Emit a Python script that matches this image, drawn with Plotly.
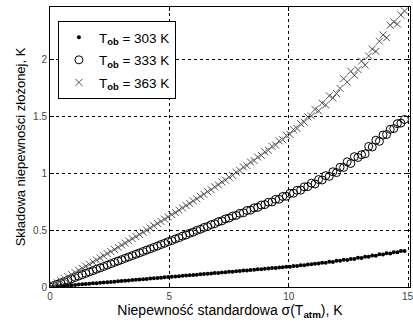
import plotly.graph_objects as go

x_sigma = [0.00, 0.15, 0.30, 0.45, 0.60, 0.75, 0.90, 1.05, 1.20, 1.35,
           1.50, 1.65, 1.80, 1.95, 2.10, 2.25, 2.40, 2.55, 2.70, 2.85,
           3.00, 3.15, 3.30, 3.45, 3.60, 3.75, 3.90, 4.05, 4.20, 4.35,
           4.50, 4.65, 4.80, 4.95, 5.10, 5.25, 5.40, 5.55, 5.70, 5.85,
           6.00, 6.15, 6.30, 6.45, 6.60, 6.75, 6.90, 7.05, 7.20, 7.35,
           7.50, 7.65, 7.80, 7.95, 8.10, 8.25, 8.40, 8.55, 8.70, 8.85,
           9.00, 9.15, 9.30, 9.45, 9.60, 9.75, 9.90, 10.05, 10.20, 10.35,
           10.50, 10.65, 10.80, 10.95, 11.10, 11.25, 11.40, 11.55, 11.70, 11.85,
           12.00, 12.15, 12.30, 12.45, 12.60, 12.75, 12.90, 13.05, 13.20, 13.35,
           13.50, 13.65, 13.80, 13.95, 14.10, 14.25, 14.40, 14.55, 14.70, 14.85]

y_303 = [0.000, 0.003, 0.005, 0.008, 0.011, 0.013, 0.016, 0.018, 0.021, 0.024,
         0.026, 0.029, 0.032, 0.034, 0.037, 0.040, 0.042, 0.045, 0.047, 0.050,
         0.053, 0.055, 0.058, 0.061, 0.063, 0.066, 0.068, 0.071, 0.074, 0.077,
         0.079, 0.082, 0.085, 0.087, 0.090, 0.092, 0.095, 0.098, 0.100, 0.103,
         0.106, 0.108, 0.111, 0.114, 0.116, 0.119, 0.122, 0.124, 0.127, 0.130,
         0.133, 0.134, 0.139, 0.140, 0.144, 0.146, 0.149, 0.151, 0.155, 0.156,
         0.161, 0.163, 0.166, 0.168, 0.172, 0.173, 0.178, 0.179, 0.184, 0.185,
         0.191, 0.192, 0.198, 0.199, 0.205, 0.206, 0.212, 0.214, 0.221, 0.220,
         0.230, 0.230, 0.239, 0.238, 0.247, 0.246, 0.257, 0.255, 0.266, 0.265,
         0.276, 0.275, 0.287, 0.285, 0.296, 0.295, 0.306, 0.305, 0.317, 0.316]

y_333 = [0.000, 0.012, 0.024, 0.036, 0.048, 0.060, 0.072, 0.084, 0.096, 0.108,
         0.120, 0.132, 0.144, 0.156, 0.168, 0.180, 0.192, 0.204, 0.216, 0.228,
         0.240, 0.252, 0.264, 0.276, 0.288, 0.300, 0.312, 0.324, 0.336, 0.348,
         0.360, 0.373, 0.384, 0.398, 0.408, 0.422, 0.433, 0.447, 0.457, 0.472,
         0.482, 0.497, 0.507, 0.523, 0.531, 0.548, 0.556, 0.573, 0.581, 0.598,
         0.606, 0.623, 0.629, 0.647, 0.652, 0.672, 0.676, 0.695, 0.700, 0.720,
         0.724, 0.745, 0.747, 0.770, 0.771, 0.795, 0.797, 0.822, 0.824, 0.850,
         0.851, 0.880, 0.882, 0.912, 0.905, 0.944, 0.940, 0.978, 0.972, 1.012,
         1.005, 1.052, 1.050, 1.100, 1.085, 1.145, 1.138, 1.162, 1.170, 1.235,
         1.230, 1.290, 1.280, 1.335, 1.340, 1.385, 1.392, 1.435, 1.440, 1.472]

y_363 = [0.000, 0.018, 0.036, 0.054, 0.073, 0.091, 0.109, 0.127, 0.146, 0.164,
         0.182, 0.200, 0.219, 0.237, 0.256, 0.274, 0.293, 0.311, 0.330, 0.349,
         0.368, 0.386, 0.405, 0.424, 0.443, 0.462, 0.481, 0.500, 0.519, 0.538,
         0.558, 0.576, 0.597, 0.615, 0.636, 0.654, 0.676, 0.694, 0.716, 0.734,
         0.756, 0.774, 0.797, 0.814, 0.838, 0.855, 0.880, 0.897, 0.923, 0.939,
         0.965, 0.980, 1.009, 1.023, 1.054, 1.066, 1.098, 1.111, 1.142, 1.156,
         1.188, 1.201, 1.236, 1.246, 1.284, 1.294, 1.332, 1.341, 1.382, 1.392,
         1.435, 1.448, 1.495, 1.503, 1.560, 1.548, 1.615, 1.600, 1.680, 1.660,
         1.700, 1.745, 1.830, 1.800, 1.895, 1.860, 1.910, 1.985, 1.950, 2.030,
         2.090, 2.070, 2.160, 2.215, 2.190, 2.300, 2.330, 2.310, 2.390, 2.425]

names = ["T<sub><b>ob</b></sub> = 303 K",
         "T<sub><b>ob</b></sub> = 333 K",
         "T<sub><b>ob</b></sub> = 363 K"]

x_ticks = [0, 5, 10, 15]
x_ticklabels = ["0", "5", "10", "15"]
y_ticks = [0, 0.5, 1, 1.5, 2]
y_ticklabels = ["0", "0.5", "1", "1.5", "2"]

FONT = "Liberation Sans, Arial, sans-serif"
TICKFONT = dict(family=FONT, size=10, color="#444444")

fig = go.Figure()
fig.add_trace(go.Scatter(x=x_sigma, y=y_303, mode="markers", name=names[0], legendgroup="a",
                         marker=dict(symbol="circle", size=4, color="black")))
fig.add_trace(go.Scatter(x=x_sigma, y=y_333, mode="markers", name=names[1], legendgroup="b",
                         marker=dict(symbol="circle-open", size=8, color="black",
                                     line=dict(width=1, color="black"))))
fig.add_trace(go.Scatter(x=x_sigma, y=y_363, mode="markers", name=names[2], legendgroup="c",
                         marker=dict(symbol="x-thin-open", size=7, color="#555555",
                                     line=dict(width=1, color="#555555"))))

axis_common = dict(
    showline=True, linecolor="black", linewidth=1, mirror="ticks",
    ticks="inside", ticklen=4, tickcolor="black",
    showgrid=True, gridcolor="black", griddash="dot", gridwidth=1,
    zeroline=False, tickfont=TICKFONT,
)

# last x tick label drawn as annotation so it is not dropped at the page edge
fig.update_xaxes(range=[0, 15.08], tickvals=x_ticks,
                 ticktext=x_ticklabels[:-1] + [""],
                 title=dict(text="Niepewność standardowa σ(T<sub><b>atm</b></sub>), K",
                            font=dict(family=FONT, size=14, color="black"), standoff=4),
                 **axis_common)
fig.add_annotation(x=x_ticks[-1], y=0, xref="x", yref="paper", text=x_ticklabels[-1],
                   showarrow=False, yanchor="top", xanchor="center", yshift=-2,
                   font=TICKFONT)
fig.update_yaxes(range=[0, 2.46], tickvals=y_ticks, ticktext=y_ticklabels,
                 title=dict(text="Składowa niepewności złożonej, K",
                            font=dict(family=FONT, size=13, color="black"), standoff=4),
                 **axis_common)

fig.update_layout(
    width=413, height=323,
    margin=dict(l=50, r=3, t=7, b=36),
    paper_bgcolor="white", plot_bgcolor="white",
    font=dict(family=FONT, size=13, color="black"),
    legend=dict(x=0.022, y=0.95, xanchor="left", yanchor="top",
                bordercolor="black", borderwidth=1, bgcolor="white",
                font=dict(family=FONT, size=13.5, color="black"),
                itemwidth=30, tracegroupgap=2),
    showlegend=True,
)

fig.write_html("out.html")
